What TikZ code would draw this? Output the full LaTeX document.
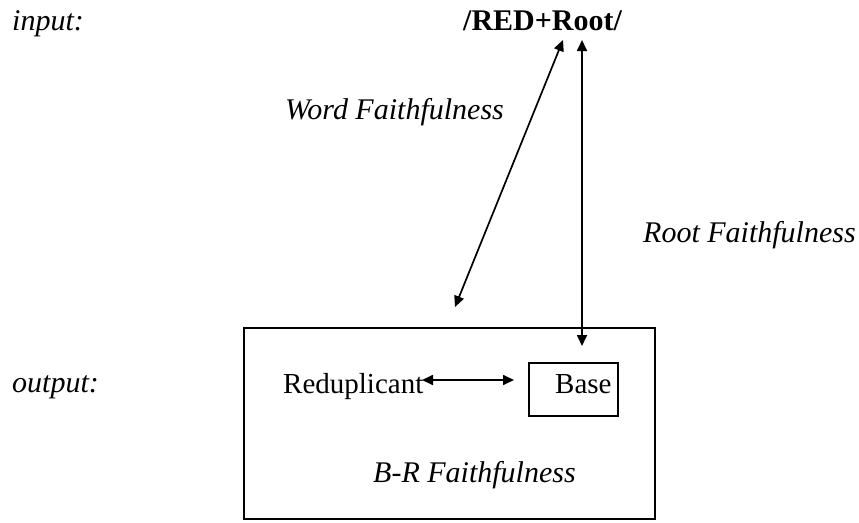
\documentclass[tikz,border=0pt]{standalone}
\usepackage{fontspec}
\setmainfont{Liberation Serif}
\usetikzlibrary{arrows.meta}
\begin{document}
\begin{tikzpicture}[x=1pt,y=-1pt,
  lbl/.style={anchor=base west,inner sep=0pt,font=\fontsize{29}{34}\selectfont},
  ilbl/.style={lbl,font=\fontsize{30}{34}\selectfont\itshape},
  dbl/.style={line width=1.7pt,{Triangle[width=10pt,length=11pt]}-{Triangle[width=10pt,length=11pt]}},
  boxline/.style={draw,line width=1.4pt}]
\useasboundingbox (0,0) rectangle (859,522);
% labels
\node[ilbl] (inp) at (12,30) {input:};
\node[lbl,font=\fontsize{30}{34}\selectfont\bfseries] (ur) at (463,30) {/RED+Root/};
\node[ilbl] (wf) at (285,119) {Word Faithfulness};
\node[ilbl] (rf) at (643,242) {Root Faithfulness};
\node[ilbl] (out) at (12,392) {output:};
% output box
\draw[boxline] (244,328) rectangle (655,519);
\node[lbl] (red) at (283,393) {Reduplicant};
\node[lbl] (base) at (555,393) {Base};
\draw[boxline] (529,363) rectangle (618,416);
\node[ilbl] (br) at (373,482) {B-R Faithfulness};
% arrow ends
\coordinate (wtop) at (563,40);
\coordinate (wbot) at (455,307);
\coordinate (rtop) at (582,40);
\coordinate (rbot) at (582,346);
\coordinate (bl) at (422,380);
\coordinate (br2) at (514,380);
\draw[dbl] (wtop) -- (wbot);
\draw[dbl] (rtop) -- (rbot);
\draw[dbl] (bl) -- (br2);
\end{tikzpicture}
\end{document}
